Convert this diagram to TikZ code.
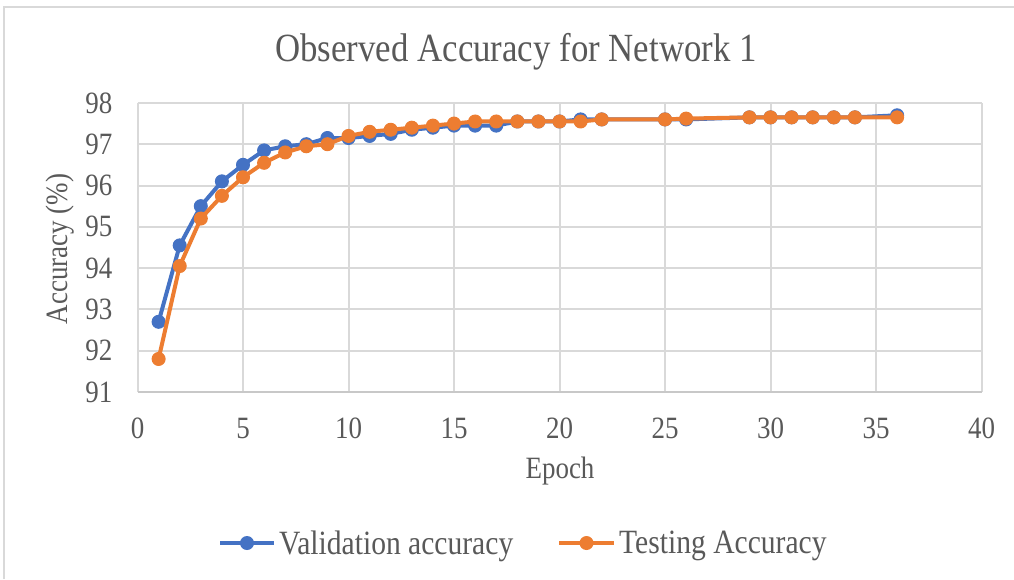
\documentclass[tikz,border=0pt]{standalone}
\usepackage{fontspec}
\setmainfont[FakeStretch=0.87]{Liberation Serif}
\usepackage{xcolor}
\usetikzlibrary{positioning,calc}
\definecolor{valblue}{HTML}{4472C4}
\definecolor{testorange}{HTML}{ED7D31}
\definecolor{gridgray}{HTML}{D9D9D9}
\definecolor{axisgray}{HTML}{C8C8C8}
\definecolor{textgray}{HTML}{595959}
\tikzset{
  gridline/.style={draw=gridgray, line width=2pt},
  chartlabel/.style={text=textgray, font=\fontsize{31}{31}\selectfont, inner sep=0pt},
  legendlabel/.style={chartlabel, font=\fontsize{34}{34}\selectfont},
  series/.style={line width=4pt, line join=round, mark=*, mark size=6.5pt, mark options={line width=1pt}},
  legendline/.style={line width=4pt}
}

\begin{document}
\begin{tikzpicture}[x=1pt, y=-1pt]
  \useasboundingbox[fill=white] (0,0) rectangle (1014,579);
  % chart frame
  \draw[gridgray, line width=1.5pt] (4,579) -- (4,7) -- (1014,7);
  \node[text=textgray, font=\fontsize{40}{40}\selectfont] (title) at (516,52) {Observed Accuracy for Network 1};
  \begin{scope}[shift={(137.5,4150.3)}, x=21.1pt, y=41.3pt]
    % grid and tick labels
    \foreach \yv in {91,...,98} {
      \draw[gridline] (0,\yv) -- (40,\yv);
      \node[chartlabel, anchor=east, xshift=-25pt] (ylab\yv) at (0,\yv) {\yv};
    }
    \foreach \xv in {0,5,...,40} {
      \draw[gridline] (\xv,91) -- (\xv,98);
      \node[chartlabel, yshift=-36pt] (xlab\xv) at (\xv,91) {\xv};
    }
    \draw[axisgray, line width=2pt] (0,91) -- (40,91);
    % validation accuracy
    \draw[series, valblue] plot coordinates {
      (1,92.7) (2,94.55) (3,95.5) (4,96.1) (5,96.5) (6,96.85) (7,96.95) (8,97.0)
      (9,97.15) (10,97.15) (11,97.2) (12,97.25) (13,97.35) (14,97.4) (15,97.45)
      (16,97.45) (17,97.45) (18,97.55) (19,97.55) (20,97.55) (21,97.6) (22,97.6)
      (25,97.6) (26,97.6) (29,97.65) (30,97.65) (31,97.65) (32,97.65) (33,97.65)
      (34,97.65) (36,97.7)};
    % testing accuracy
    \draw[series, testorange] plot coordinates {
      (1,91.8) (2,94.05) (3,95.2) (4,95.75) (5,96.2) (6,96.55) (7,96.8) (8,96.95)
      (9,97.0) (10,97.2) (11,97.3) (12,97.35) (13,97.4) (14,97.45) (15,97.5)
      (16,97.55) (17,97.55) (18,97.55) (19,97.55) (20,97.55) (21,97.55) (22,97.6)
      (25,97.6) (26,97.62) (29,97.65) (30,97.65) (31,97.65) (32,97.65) (33,97.65)
      (34,97.65) (36,97.65)};
  \end{scope}
  % axis titles
  \node[chartlabel] (xtitle) at (560,471) {Epoch};
  \node[chartlabel, rotate=90] (ytitle) at (60,249) {Accuracy (\%)};
  % legend
  \coordinate (vala) at (220,543);
  \coordinate (valb) at (274,543);
  \draw[legendline, valblue] (vala) -- (valb);
  \fill[valblue] ($(vala)!0.5!(valb)$) circle (7pt);
  \node[legendlabel, right=5pt of valb, yshift=-3pt] (valtext) {Validation accuracy};
  \coordinate (testa) at (559,543);
  \coordinate (testb) at (614,543);
  \draw[legendline, testorange] (testa) -- (testb);
  \fill[testorange] ($(testa)!0.5!(testb)$) circle (7pt);
  \node[legendlabel, right=5pt of testb, yshift=-3pt] (testtext) {Testing Accuracy};
\end{tikzpicture}
\end{document}
